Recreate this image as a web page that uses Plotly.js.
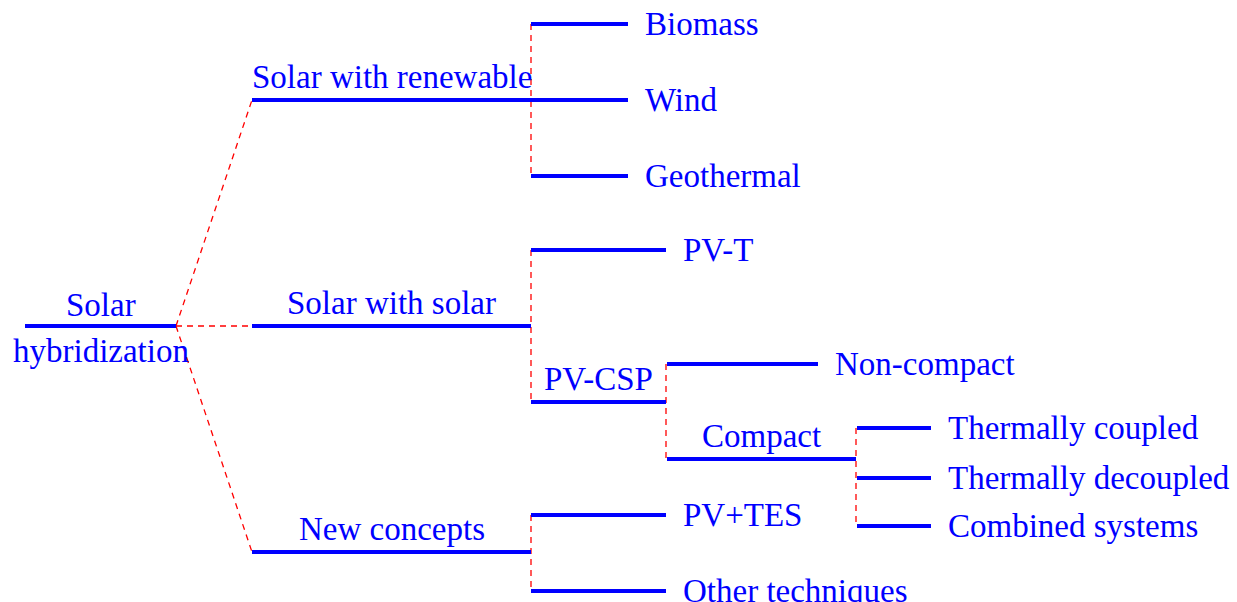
<!DOCTYPE html>
<html>
<head>
<meta charset="utf-8">
<script src="https://cdn.plot.ly/plotly-3.0.1.min.js"></script>
<style>html,body{margin:0;padding:0;background:#fff;}#chart{width:1237px;height:602px;}</style>
</head>
<body>
<div id="chart"></div>
<script>
// Tree structure (node names, parents) and the diagram coordinates of each node's bar
const labels = ["Solar\nhybridization", "Solar with renewable", "Solar with solar", "New concepts",
  "Biomass", "Wind", "Geothermal", "PV-T", "PV-CSP", "PV+TES", "Other techniques",
  "Non-compact", "Compact", "Thermally coupled", "Thermally decoupled", "Combined systems"];
const parents = [-1, 0, 0, 0, 1, 1, 1, 2, 2, 3, 3, 8, 8, 12, 12, 12];
const barStart = [25, 252, 252, 252, 531, 531, 531, 531, 531, 531, 531, 667, 667, 857, 857, 857];
const barEnd   = [176, 531, 531, 531, 628, 628, 628, 666, 666, 666, 666, 818, 856, 931, 931, 931];
const barLevel = [326, 100, 326, 552, 24, 100, 176, 250, 402, 515, 591, 364, 459, 428, 478, 526];

const BLUE = "#0000ff", RED = "#ff0000";
const FONT = {family: "Liberation Serif, serif", size: 33, color: BLUE};

const hasChildren = labels.map((_, i) => parents.some(p => p === i));

// blue bars
const bx = [], by = [];
labels.forEach((_, i) => { bx.push(barStart[i], barEnd[i], null); by.push(barLevel[i], barLevel[i], null); });

// red dashed connectors
const rx = [], ry = [];
labels.forEach((_, i) => {
  if (!hasChildren[i]) return;
  const kids = parents.map((p, k) => p === i ? k : -1).filter(k => k >= 0);
  if (parents[i] === -1) {
    kids.forEach(k => { rx.push(barEnd[i], barStart[k], null); ry.push(barLevel[i], barLevel[k], null); });
  } else {
    const ys = kids.map(k => barLevel[k]).concat([barLevel[i]]);
    rx.push(barEnd[i], barEnd[i], null); ry.push(Math.min(...ys), Math.max(...ys), null);
  }
});

const traces = [
  {x: rx, y: ry, mode: "lines", line: {color: RED, width: 1.3, dash: "6px,5px"}, hoverinfo: "skip", showlegend: false},
  {x: bx, y: by, mode: "lines", line: {color: BLUE, width: 4}, hoverinfo: "skip", showlegend: false}
];

const annotations = [];
labels.forEach((lab, i) => {
  const mid = (barStart[i] + barEnd[i]) / 2;
  if (parents[i] === -1) {
    const parts = lab.split("\n");
    annotations.push({x: mid, y: barLevel[i], text: parts[0], xanchor: "center", yanchor: "bottom", yshift: 1, showarrow: false, font: FONT});
    annotations.push({x: mid, y: barLevel[i], text: parts[1], xanchor: "center", yanchor: "top", yshift: -5, showarrow: false, font: FONT});
  } else if (hasChildren[i]) {
    annotations.push({x: mid, y: barLevel[i], text: lab, xanchor: "center", yanchor: "bottom", yshift: 3, showarrow: false, font: FONT});
  } else {
    annotations.push({x: barEnd[i], y: barLevel[i], text: lab, xanchor: "left", yanchor: "middle", xshift: 15, yshift: 0, showarrow: false, font: FONT});
  }
});

const layout = {
  width: 1237, height: 602,
  margin: {l: 0, r: 0, t: 0, b: 0},
  paper_bgcolor: "#fff", plot_bgcolor: "#fff",
  xaxis: {range: [0, 1237], visible: false, fixedrange: true},
  yaxis: {range: [602, 0], visible: false, fixedrange: true},
  annotations: annotations,
  showlegend: false
};
Plotly.newPlot("chart", traces, layout, {displayModeBar: false, staticPlot: true});
</script>
</body>
</html>
